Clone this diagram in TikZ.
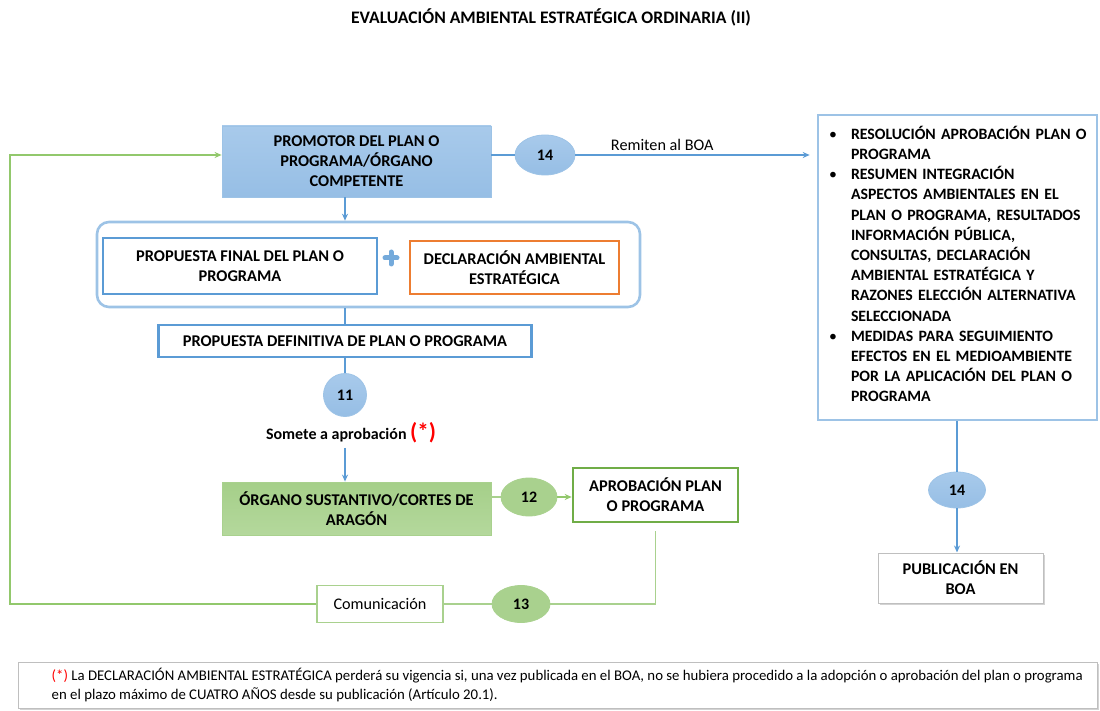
\documentclass[tikz,border=0pt]{standalone}
\usepackage{fontspec}
\setmainfont{Carlito}
\usepackage{enumitem}
\usetikzlibrary{positioning,arrows.meta,shapes.geometric,shadows}
\definecolor{lineblue}{RGB}{91,155,213}
\definecolor{paleblue}{RGB}{157,195,230}
\definecolor{topblue}{RGB}{168,202,235}
\definecolor{botblue}{RGB}{150,190,229}
\definecolor{linegreen}{RGB}{112,173,71}
\definecolor{palegreen}{RGB}{169,209,142}
\definecolor{backgreen}{RGB}{146,200,108}
\definecolor{topgreen}{RGB}{165,207,137}
\definecolor{botgreen}{RGB}{180,216,156}
\definecolor{deforange}{RGB}{237,125,49}
\definecolor{shadegray}{RGB}{191,191,191}
\tikzset{
  box/.style   = {rectangle, draw=lineblue, line width=2.4pt, align=center,
                  inner sep=0pt, font=\bfseries\fontsize{16.4}{20}\selectfont},
  numb/.style  = {ellipse, draw=paleblue, line width=0.8pt, inner sep=0pt,
                  font=\bfseries\fontsize{16}{18}\selectfont,
                  top color=topblue, bottom color=botblue},
  gnumb/.style = {numb, draw=palegreen, top color=palegreen, bottom color=palegreen},
  shbox/.style = {rectangle, draw=shadegray, line width=1pt, fill=white,
                  drop shadow={shadow xshift=1.5pt, shadow yshift=-1.5pt, opacity=0.35}},
  arr/.style   = {-{Stealth[length=7pt,width=6pt]}, line width=1.2pt, draw=lineblue},
  line/.style  = {line width=1.2pt, draw=lineblue},
  gline/.style = {line width=1.5pt, draw=palegreen},
  garr/.style  = {-{Stealth[length=7pt,width=6pt]}, line width=1.5pt, draw=backgreen}
}

\begin{document}
\begin{tikzpicture}[x=1pt, y=-1pt]
  \useasboundingbox (0,0) rectangle (1100,711);

  \node[font=\bfseries\fontsize{17.6}{20}\selectfont] (title) at (551,17)
    {EVALUACIÓN AMBIENTAL ESTRATÉGICA ORDINARIA (II)};

  % upper chain
  \node[box, draw=paleblue, line width=0.8pt, top color=topblue, bottom color=botblue,
        minimum width=269, minimum height=71] (prom) at (356.5,161.5)
    {PROMOTOR DEL PLAN O\\PROGRAMA/ÓRGANO\\COMPETENTE};
  \node[numb, minimum width=60, minimum height=40] (n14a) at (545,155) {14};
  \node[box, draw=paleblue, line width=2.6pt, minimum width=279, minimum height=305,
        text width=265, align=left, font=\bfseries\fontsize{15.8}{20.2}\selectfont]
    (res) at (957.5,267.5)
    {\vspace*{-14pt}%
     \begin{itemize}[leftmargin=26pt, labelsep=14pt, nosep]
       \item RESOLUCIÓN APROBACIÓN PLAN O\\PROGRAMA
       \item RESUMEN INTEGRACIÓN\\ASPECTOS AMBIENTALES EN EL\\PLAN O PROGRAMA, RESULTADOS\\
             INFORMACIÓN PÚBLICA,\\CONSULTAS, DECLARACIÓN\\AMBIENTAL ESTRATÉGICA Y\\
             RAZONES ELECCIÓN ALTERNATIVA\\SELECCIONADA
       \item MEDIDAS PARA SEGUIMIENTO\\EFECTOS EN EL MEDIOAMBIENTE\\
             POR LA APLICACIÓN DEL PLAN O\\PROGRAMA
     \end{itemize}};
  \node[numb, minimum width=57, minimum height=36] (n14b) at (957,490) {14};
  \node[shbox, align=center, font=\bfseries\fontsize{16.4}{20}\selectfont,
        minimum width=165, minimum height=50] (pub) at (960.5,578)
    {PUBLICACIÓN EN\\BOA};

  \draw[line] (prom.east |- n14a) -- (n14a);
  \draw[arr, shorten >=7pt] (n14a) -- (n14a -| res.west)
    node[pos=0.36, above=0pt, font=\fontsize{16.2}{18}\selectfont] (remit) {Remiten al BOA};
  \draw[line] (res.south -| n14b) -- (n14b);
  \draw[arr] (n14b) -- (pub.north -| n14b);

  % proposal group
  \node[draw=paleblue, line width=2.6pt, rounded corners=12pt,
        minimum width=543, minimum height=85] (group) at (368.5,264.5) {};
  \node[box, minimum width=274, minimum height=56] (fin) at (240,266)
    {PROPUESTA FINAL DEL PLAN O\\PROGRAMA};
  \coordinate (plus) at (391,258);
  \draw[line width=5pt, draw=lineblue!85!white, line cap=round]
    ([xshift=-6pt]plus) -- ([xshift=6pt]plus) ([yshift=-6pt]plus) -- ([yshift=6pt]plus);
  \node[box, draw=deforange, minimum width=209, minimum height=53] (decl) at (514.5,267.5)
    {DECLARACIÓN AMBIENTAL\\ESTRATÉGICA};
  \node[box, minimum width=373, minimum height=32] (defi) at (345,341)
    {PROPUESTA DEFINITIVA DE PLAN O PROGRAMA};

  \draw[arr] (prom.south -| defi.north) -- (group.north -| defi.north);
  \draw[line] (group.south -| defi.north) -- (defi.north);

  \node[numb, minimum width=43, minimum height=43] (n11) at (345,395) {11};
  \node[font=\bfseries\fontsize{16}{18}\selectfont] (subm) at (351,433)
    {Somete a aprobación \textcolor{red}{\fontsize{23}{23}\selectfont(*)}};
  \draw[line] (defi.south) -- (n11);

  % approval
  \node[box, draw=palegreen, line width=0.8pt, top color=topgreen, bottom color=botgreen,
        minimum width=269, minimum height=53] (org) at (356.5,508.5)
    {ÓRGANO SUSTANTIVO/CORTES DE\\ARAGÓN};
  \node[gnumb, minimum width=56, minimum height=38] (n12) at (529,497) {12};
  \node[box, draw=linegreen, line width=2.6pt, minimum width=165, minimum height=54]
    (apro) at (655.5,495) {APROBACIÓN PLAN\\O PROGRAMA};
  \node[gnumb, minimum width=58, minimum height=37] (n13) at (521,604) {13};
  \node[rectangle, draw=palegreen, line width=1.2pt, minimum width=126, minimum height=37,
        font=\fontsize{16.2}{18}\selectfont] (comu) at (380,604) {Comunicación};
  \coordinate (loop) at (10,604);

  \draw[arr] ([yshift=-1pt]subm.south -| n11) -- (org.north -| n11);
  \draw[gline] (org.east |- n12) -- (n12);
  \draw[gline, draw=backgreen, -{Stealth[length=7pt,width=6pt]}] (n12) -- (n12 -| apro.west);
  \draw[gline] ([yshift=-8pt]apro.south) |- (n13);
  \draw[gline] (n13) -- (comu);
  \draw[garr] (comu.west) -- (loop) |- (prom.west |- n14a);

  % footnote
  \node[shbox, minimum width=1079, minimum height=46] (note) at (557.5,685) {};
  \node[anchor=west, align=left, inner sep=0pt, font=\fontsize{14.8}{19}\selectfont]
    (notetxt) at ([xshift=34pt]note.west)
    {\textcolor{red}{(*)} La DECLARACIÓN AMBIENTAL ESTRATÉGICA perderá su vigencia si, una vez publicada en el BOA, no se hubiera procedido a la adopción o aprobación del plan o programa\\
     en el plazo máximo de CUATRO AÑOS desde su publicación (Artículo 20.1).};
\end{tikzpicture}
\end{document}
